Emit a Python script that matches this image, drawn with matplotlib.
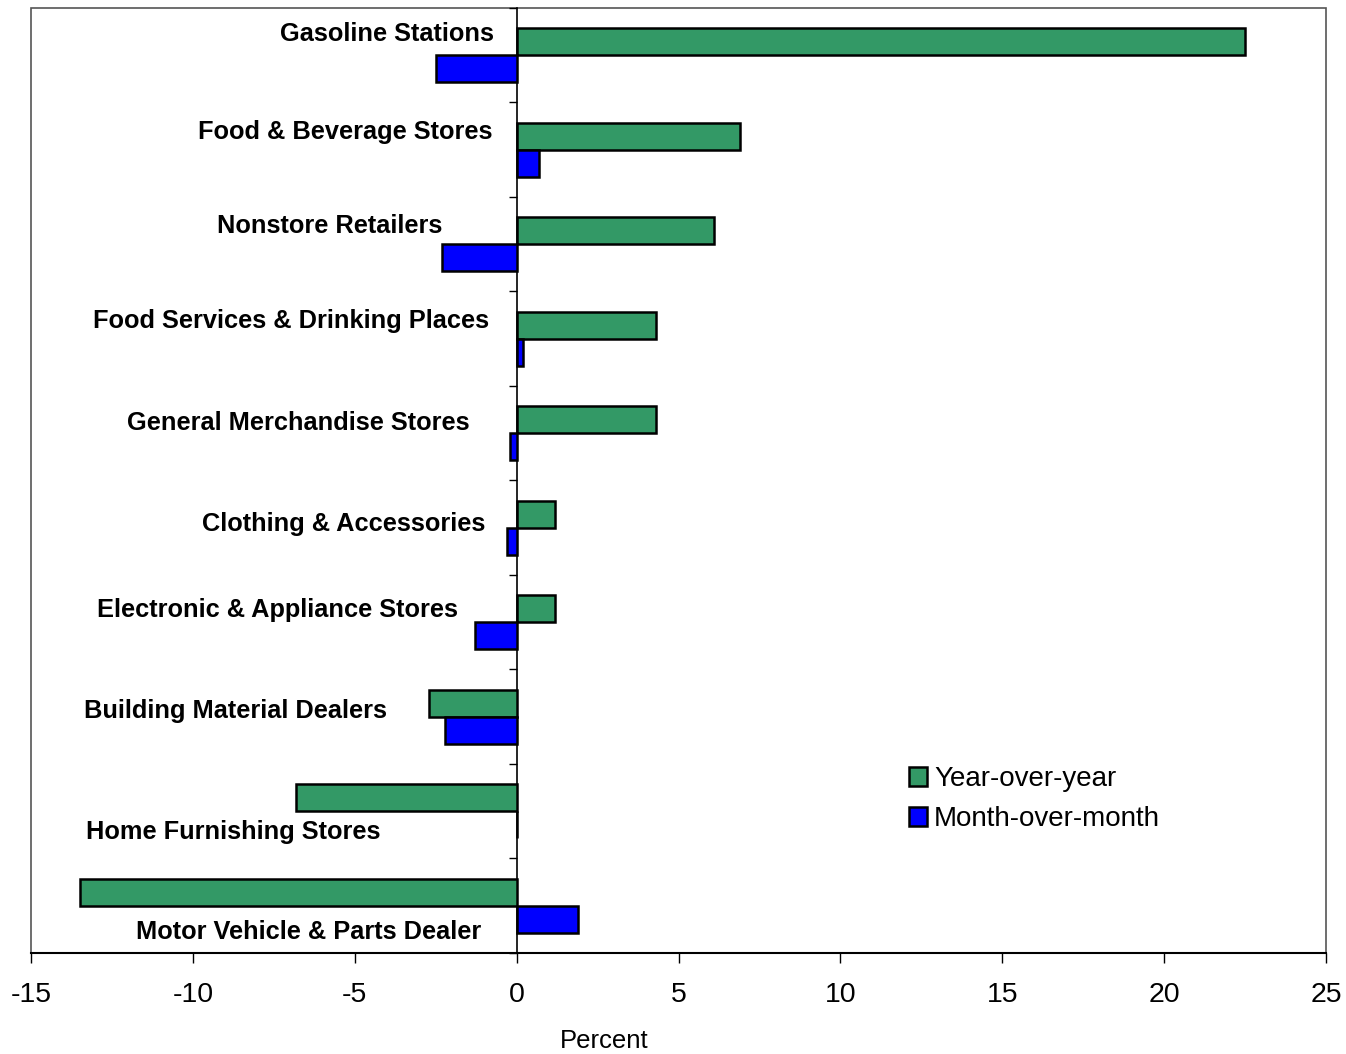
import numpy as np
import matplotlib.pyplot as plt
from matplotlib.patches import Rectangle

plt.rcParams['font.family'] = ['Liberation Sans', 'DejaVu Sans']
plt.rcParams['axes.unicode_minus'] = False

# Data
categories = ['Gasoline Stations', 'Food & Beverage Stores', 'Nonstore Retailers',
              'Food Services & Drinking Places', 'General Merchandise Stores',
              'Clothing & Accessories', 'Electronic & Appliance Stores',
              'Building Material Dealers', 'Home Furnishing Stores',
              'Motor Vehicle & Parts Dealer']
yoy = [22.5, 6.9, 6.1, 4.3, 4.3, 1.2, 1.2, -2.7, -6.8, -13.5]
mom = [-2.5, 0.7, -2.3, 0.2, -0.2, -0.3, -1.3, -2.2, 0.0, 1.9]

# label placement (x end of text, y center) in data units
label_x = [-0.7, -0.75, -2.28, -0.85, -1.45, -0.95, -1.82, -4.0, -4.2, -1.08]
label_y = [-0.23, 0.81, 1.81, 2.81, 3.89, 4.96, 5.87, 6.94, 8.22, 9.28]

fig = plt.figure(figsize=(13.46, 10.54), dpi=100)
ax = fig.add_axes([31/1346, 1-953/1054, 1295/1346, 945/1054])

y = np.arange(len(categories))
h = 0.286
ax.barh(y - h/2, yoy, height=h, color='#339966', edgecolor='black', linewidth=1.8,
        label='Year-over-year', zorder=3)
ax.barh(y + h/2, mom, height=h, color='#0000FF', edgecolor='black', linewidth=1.8,
        label='Month-over-month', zorder=3)

for name, lx, ly in zip(categories, label_x, label_y):
    ax.text(lx, ly, name, ha='right', va='center', fontsize=18.3, fontweight='bold', zorder=4)

ax.set_xlim(-15, 25)
ax.set_ylim(9.5, -0.5)
ax.set_xticks(np.arange(-15, 26, 5))
ax.tick_params(axis='x', labelsize=20.5, length=7, width=1, pad=14)

# y axis drawn at zero with boundary ticks
ax.spines['left'].set_position(('data', 0))
ax.spines['left'].set_linewidth(1.2)
ax.set_yticks(np.arange(-0.5, 10, 1))
ax.set_yticklabels([])
ax.tick_params(axis='y', direction='out', length=6, width=1)
ax.spines['top'].set_visible(False)
ax.spines['right'].set_visible(False)
ax.spines['bottom'].set_linewidth(1.5)

# gray frame
ax.add_patch(Rectangle((0, 0), 1, 1, transform=ax.transAxes, fill=False,
                       edgecolor='#555555', linewidth=1.2, clip_on=False, zorder=1))

fig.text(604/1346, 1-1041/1054, 'Percent', ha='center', va='center', fontsize=18.5)

ax.legend(loc='upper left', bbox_to_anchor=((898-31)/1295, (953-755)/945),
          frameon=False, fontsize=20, handlelength=0.65, handleheight=0.7,
          handletextpad=0.25, labelspacing=0.5, borderaxespad=0)

plt.savefig('out.png', dpi=100)
